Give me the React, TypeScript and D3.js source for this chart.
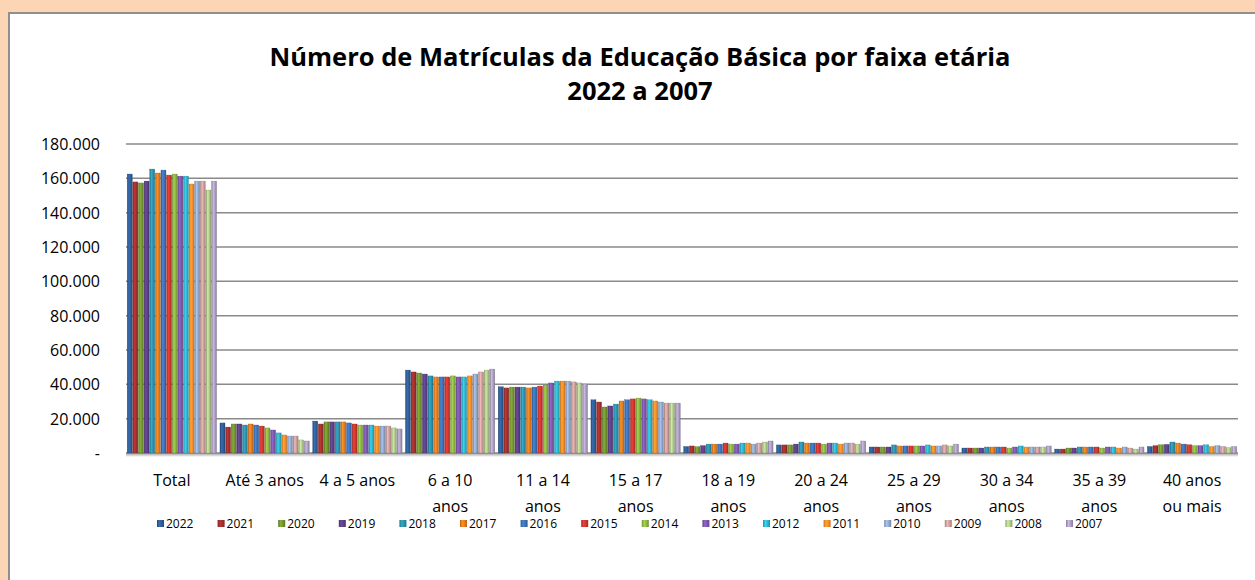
import React from "react";
import * as d3 from "d3";

const categories: string[][] = [
  ["Total"], ["Até 3 anos"], ["4 a 5 anos"], ["6 a 10", "anos"], ["11 a 14", "anos"],
  ["15 a 17", "anos"], ["18 a 19", "anos"], ["20 a 24", "anos"], ["25 a 29", "anos"],
  ["30 a 34", "anos"], ["35 a 39", "anos"], ["40 anos", "ou mais"],
];
const years = ["2022","2021","2020","2019","2018","2017","2016","2015","2014","2013","2012","2011","2010","2009","2008","2007"];
const colors = ["#2E5C96","#9E2F2C","#71922F","#5B3F83","#2B8EA9","#E07A1F","#3B70B3","#C9352F","#8BB243","#7A56A8","#2FB1C9","#F38B2A","#8FA6C9","#C99C9A","#AEC58A","#A99CBE"];

const vTotal = [162500,157900,157300,158400,165400,163100,164800,161900,162500,161300,161300,156700,158400,158400,153200,158400];
const vAte3 = [17500,15100,16900,16900,16300,16900,16300,15700,14600,13400,11700,10500,9900,9900,7600,7000];
const v4a5 = [18600,16900,18100,18100,18100,18100,17500,16900,16300,16300,16300,15700,15700,15700,14600,14000];
const v6a10 = [48300,47200,46600,46000,44900,44300,44300,44300,44900,44300,44300,44900,46000,47200,48300,48900];
const v11a14 = [38600,37900,38400,38400,38400,37900,38400,39000,39600,40800,41900,41900,41900,41400,40800,40200];
const v15a17 = [31000,29700,26800,27400,28500,30300,31000,31500,32000,31500,31000,30300,29700,29100,29100,29100];
const v18a19 = [3800,4100,3700,4300,5200,5200,5200,5800,5200,5200,5800,5800,5200,5800,6400,7000];
const v20a24 = [4700,4700,4700,5200,6400,5800,5800,5800,5200,5800,5800,5200,5800,5800,5200,7000];
const v25a29 = [3500,3500,3500,3500,4700,4100,4100,4100,4100,4100,4700,4100,4100,4700,4100,5200];
const v30a34 = [2900,2900,2900,2900,3500,3500,3500,3500,2900,3500,4100,3500,3500,3500,3500,4100];
const v35a39 = [2300,2300,2900,2900,3500,3500,3500,3500,2900,3500,3500,2900,3500,2900,2300,3500];
const v40mais = [3800,4300,4800,5000,6400,5800,5200,4800,4300,4300,4800,3800,4300,3800,3200,3800];
const groupValues = [vTotal,vAte3,v4a5,v6a10,v11a14,v15a17,v18a19,v20a24,v25a29,v30a34,v35a39,v40mais];

const yTicks = [0,20000,40000,60000,80000,100000,120000,140000,160000,180000];
const tickLabel = (v: number) => v === 0 ? "-" : d3.format(",")(v).replace(/,/g, ".");

const W = 1255, H = 580;
const left = 126, right = 1238, top = 144, bottom = 453;
const font = "'Open Sans', Lato, sans-serif";

export default function App() {
  const x0 = d3.scaleBand<number>().domain(d3.range(categories.length)).range([left, right]).paddingInner(0.03).paddingOuter(0.01);
  const x1 = d3.scaleBand<number>().domain(d3.range(years.length)).range([0, x0.bandwidth()]).padding(0);
  const y = d3.scaleLinear().domain([0, 180000]).range([bottom, top]);

  const legendStart = 157, legendStep = 60.6;

  return (
    <svg width={W} height={H} style={{ position: "absolute", left: 0, top: 0, display: "block" }}>
      <defs>
        {colors.map((c, i) => {
          const dk = d3.color(c)!.darker(0.6).formatHex();
          const lt = d3.color(c)!.brighter(0.5).formatHex();
          return (
            <linearGradient key={i} id={`g${i}`} x1="0" x2="1" y1="0" y2="0">
              <stop offset="0" stopColor={dk} />
              <stop offset="0.35" stopColor={lt} />
              <stop offset="0.7" stopColor={c} />
              <stop offset="1" stopColor={dk} />
            </linearGradient>
          );
        })}
        <linearGradient id="baseShadow" x1="0" x2="0" y1="0" y2="1">
          <stop offset="0" stopColor="#9a9a9a" />
          <stop offset="1" stopColor="#ffffff" />
        </linearGradient>
      </defs>
      <rect x={0} y={0} width={W} height={H} fill="#FCD5B5" />
      <rect x={9} y={13} width={W} height={H} fill="#ffffff" stroke="#8f8f8f" strokeWidth={2} />

      <text x={640} y={66} textAnchor="middle" fontFamily={font} fontWeight="bold" fontSize={25.5} fill="#000">
        Número de Matrículas da Educação Básica por faixa etária
      </text>
      <text x={640} y={100} textAnchor="middle" fontFamily={font} fontWeight="bold" fontSize={25.5} fill="#000">
        2022 a 2007
      </text>

      {yTicks.map((t) => (
        <g key={t}>
          {t > 0 && <line x1={left} x2={right} y1={y(t)} y2={y(t)} stroke="#8a8a8a" strokeWidth={1.5} />}
          <text x={100} y={y(t) + 6} textAnchor="end" fontFamily={font} fontSize={16} fill="#000">{tickLabel(t)}</text>
        </g>
      ))}

      <rect x={left} y={bottom} width={right - left} height={4} fill="url(#baseShadow)" />
      <line x1={left} x2={right} y1={bottom} y2={bottom} stroke="#8a8a8a" strokeWidth={1.5} />

      {groupValues.map((vals, gi) => (
        <g key={gi} transform={`translate(${x0(gi)},0)`}>
          {vals.map((v, si) => (
            <rect key={si} x={x1(si)! + 0.3} y={y(v)} width={x1.bandwidth() - 0.6} height={bottom - y(v)}
              fill={`url(#g${si})`} stroke={d3.color(colors[si])!.darker(0.8).formatHex()} strokeWidth={0.3} />
          ))}
        </g>
      ))}

      {categories.map((lines, gi) => (
        <text key={gi} textAnchor="middle" fontFamily={font} fontSize={16} fill="#000">
          {lines.map((l, li) => (
            <tspan key={li} x={x0(gi)! + x0.bandwidth() / 2} y={486 + li * 26}>{l}</tspan>
          ))}
        </text>
      ))}

      {years.map((yr, i) => (
        <g key={yr} transform={`translate(${legendStart + i * legendStep},528)`}>
          <rect x={0} y={-8} width={7} height={7} fill={`url(#g${i})`} />
          <text x={9} y={0} fontFamily={font} fontSize={12} fill="#000">{yr}</text>
        </g>
      ))}
    </svg>
  );
}
